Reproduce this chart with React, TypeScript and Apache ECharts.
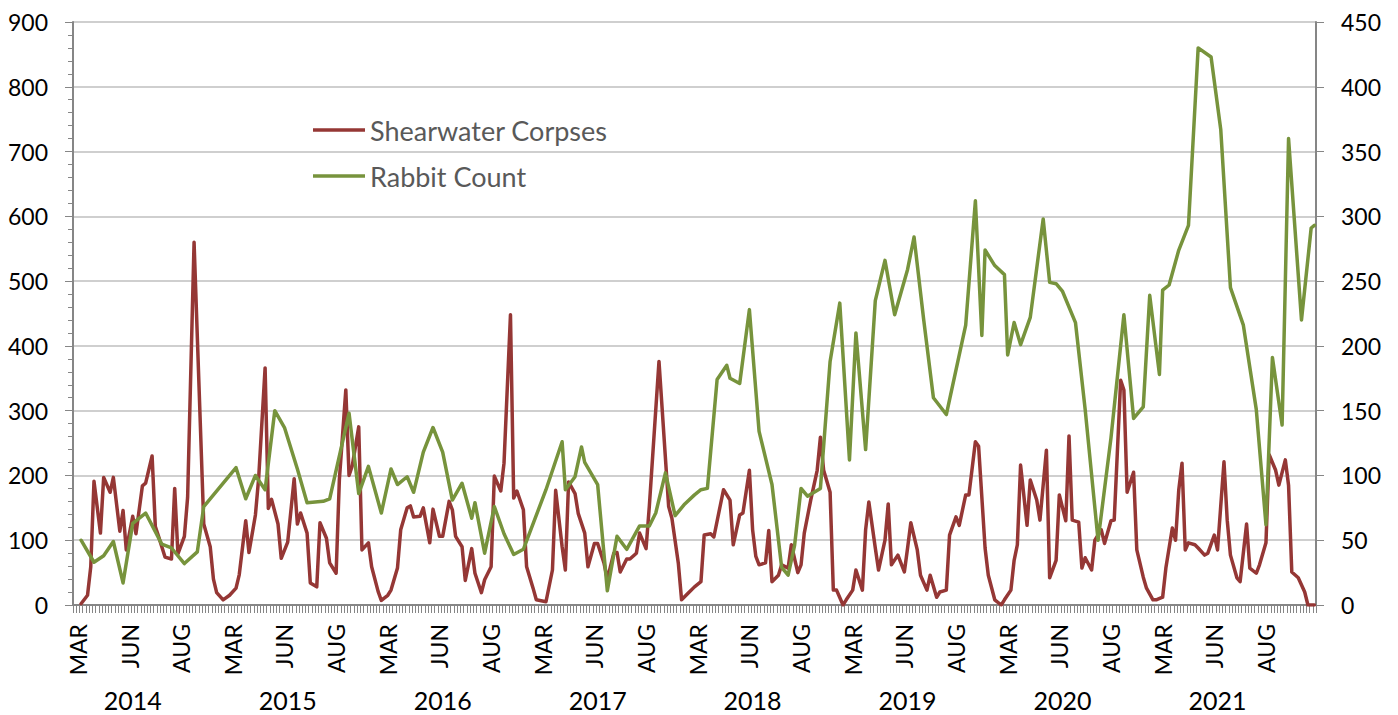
import React, { useEffect, useRef } from "react";
import * as echarts from "echarts";

// ---- data (category index, value) ----
const CATEGORY_COUNT = 385;
const monthTicks = ["MAR", "JUN", "AUG"];
const yearTicks = ["2014", "2015", "2016", "2017", "2018", "2019", "2020", "2021"];
const leftAxisTicks = [0, 900, 100];
const rightAxisTicks = [0, 450, 50];

const shearwaterCorpses: [number, number][] = [
  [2,2],[4,15],[5,59],[6,191],[8,111],[9,197],[11,174],[12,197],[14,114],[15,146],[16,85],[18,137],[19,110],[21,184],[22,188],[24,230],[25,121],[26,106],[28,74],[30,71],[31,180],[32,79],[34,106],[35,166],[37,560],[40,125],[42,90],[43,40],[44,19],[46,8],[48,15],[50,26],[51,47],[53,130],[54,81],[56,139],[57,195],[59,366],[60,149],[61,163],[63,125],[64,72],[66,97],[68,195],[69,125],[70,142],[72,111],[73,34],[75,28],[76,127],[78,103],[79,65],[81,49],[82,193],[84,332],[85,200],[86,215],[88,275],[89,85],[91,96],[92,59],[94,21],[95,7],[97,15],[98,23],[100,57],[101,116],[103,150],[104,153],[105,136],[107,137],[108,150],[110,96],[111,148],[113,106],[114,106],[116,160],[117,147],[118,106],[120,90],[121,38],[123,87],[124,49],[126,19],[127,39],[129,59],[130,199],[132,176],[133,219],[135,448],[136,165],[137,176],[139,147],[140,59],[142,26],[143,8],[146,5],[148,54],[149,177],[151,90],[152,54],[153,190],[155,172],[156,141],[158,111],[159,59],[161,95],[162,95],[164,64],[165,40],[167,80],[168,81],[169,51],[171,71],[172,71],[174,80],[175,111],[177,87],[178,152],[181,376],[184,152],[185,134],[187,64],[188,8],[190,18],[192,28],[194,36],[195,108],[197,110],[198,105],[200,154],[201,178],[203,162],[204,93],[206,139],[207,142],[209,208],[210,116],[211,75],[212,62],[214,65],[215,115],[216,36],[218,46],[219,62],[221,57],[222,93],[224,50],[225,62],[226,111],[228,162],[230,208],[231,259],[232,208],[234,174],[235,23],[236,23],[238,0],[239,8],[241,23],[242,54],[244,23],[245,116],[246,159],[248,88],[249,54],[251,100],[252,156],[253,62],[255,77],[257,51],[258,88],[259,127],[261,85],[262,46],[264,23],[265,46],[267,12],[268,20],[270,23],[271,108],[273,136],[274,123],[276,170],[277,170],[279,252],[280,245],[282,88],[283,46],[285,8],[287,0],[288,8],[290,23],[291,69],[292,93],[293,216],[295,123],[296,193],[298,162],[299,131],[301,239],[302,42],[304,69],[305,170],[307,130],[308,261],[309,131],[311,128],[312,57],[313,73],[315,54],[316,100],[318,116],[319,95],[321,130],[322,131],[324,347],[325,332],[326,174],[328,205],[329,85],[331,43],[332,26],[334,8],[335,8],[337,12],[338,57],[340,119],[341,100],[342,178],[343,219],[344,85],[345,96],[347,93],[348,88],[350,77],[351,80],[353,108],[354,85],[356,221],[357,131],[358,77],[360,42],[361,36],[363,125],[364,57],[366,49],[367,62],[369,96],[370,232],[372,208],[373,185],[375,224],[376,185],[377,51],[379,42],[381,20],[382,0],[384,0]
];

const rabbitCount: [number, number][] = [
  [2,50],[6,33],[9,38],[12,49],[15,17],[18,63],[22,71],[27,47],[30,44],[34,32],[38,41],[40,76],[50,106],[53,82],[56,100],[59,89],[62,150],[65,137],[69,105],[72,79],[77,80],[79,82],[85,148],[88,86],[91,107],[95,71],[98,105],[100,93],[103,99],[105,87],[108,118],[111,137],[114,118],[117,81],[120,94],[123,67],[124,79],[127,40],[130,76],[133,55],[136,39],[139,43],[146,89],[151,126],[152,89],[155,99],[157,122],[158,110],[162,93],[165,11],[168,53],[171,43],[175,61],[178,61],[180,71],[183,102],[186,69],[189,78],[192,85],[194,89],[196,90],[199,174],[202,185],[203,175],[206,171],[209,228],[212,134],[216,93],[219,29],[221,23],[223,46],[225,90],[227,84],[231,90],[234,188],[237,233],[240,112],[242,210],[245,120],[248,235],[251,266],[254,224],[258,259],[260,284],[263,220],[266,160],[270,147],[276,216],[279,312],[281,208],[282,274],[285,262],[288,255],[289,193],[291,218],[293,201],[296,222],[300,298],[302,249],[304,248],[306,242],[310,218],[313,151],[317,50],[321,129],[325,224],[328,144],[331,153],[333,239],[336,178],[337,243],[339,247],[342,274],[345,293],[348,430],[352,423],[355,367],[358,245],[362,216],[366,151],[369,62],[371,191],[374,139],[376,360],[380,220],[383,291],[384,293]
];

// month label every 16 categories starting at 1; year label at 18 + 48k
const MONTH_START = 1;
const MONTH_STEP = 16;
const YEAR_START = 18;
const YEAR_STEP = 48;

function toFull(points: [number, number][]): (number | null)[] {
  const arr: (number | null)[] = new Array(CATEGORY_COUNT).fill(null);
  points.forEach(([i, v]) => { arr[i] = v; });
  return arr;
}

export default function App() {
  const ref = useRef<HTMLDivElement>(null);
  useEffect(() => {
    document.body.style.margin = "0";
    if (!ref.current) return;
    const chart = echarts.init(ref.current, undefined, { renderer: "svg" });
    const monthCats: string[] = [];
    const yearCats: string[] = [];
    for (let i = 0; i < CATEGORY_COUNT; i++) {
      const m = i - MONTH_START;
      monthCats.push(m >= 0 && m % MONTH_STEP === 0 ? monthTicks[(m / MONTH_STEP) % 3] : "");
      const y = i - YEAR_START;
      yearCats.push(y >= 0 && y % YEAR_STEP === 0 && y / YEAR_STEP < yearTicks.length ? yearTicks[y / YEAR_STEP] : "");
    }
    const font = "Lato";
    const axisGray = "#868686";
    chart.setOption({
      animation: false,
      textStyle: { fontFamily: font },
      grid: { left: 73, right: 82, top: 22, bottom: 110, containLabel: false },
      legend: {
        orient: "vertical",
        left: 313,
        top: 115,
        padding: 0,
        icon: "rect",
        itemWidth: 52,
        itemHeight: 3.5,
        itemGap: 16,
        textStyle: { color: "#595959", fontSize: 27, fontFamily: font, lineHeight: 30 },
        data: ["Shearwater Corpses", "Rabbit Count"],
      },
      xAxis: [
        {
          type: "category",
          data: monthCats,
          boundaryGap: true,
          axisLine: { lineStyle: { color: axisGray, width: 2 } },
          axisTick: { show: true, interval: 0, length: 8, lineStyle: { color: axisGray, width: 1 } },
          axisLabel: { interval: 0, rotate: 90, margin: 19, fontSize: 23, color: "#000", fontFamily: font },
          splitLine: { show: false },
        },
        {
          type: "category",
          data: yearCats,
          position: "bottom",
          boundaryGap: true,
          axisLine: { show: false },
          axisTick: { show: false },
          axisLabel: { interval: 0, margin: 82, fontSize: 25, lineHeight: 25, color: "#000", fontFamily: font },
          splitLine: { show: false },
        },
      ],
      yAxis: [
        {
          type: "value",
          min: leftAxisTicks[0],
          max: leftAxisTicks[1],
          interval: leftAxisTicks[2],
          axisLine: { show: true, lineStyle: { color: axisGray, width: 2 } },
          axisTick: { show: true, length: 8, lineStyle: { color: axisGray } },
          minorTick: { show: true, splitNumber: 5, length: 5, lineStyle: { color: axisGray } },
          splitLine: { show: true, lineStyle: { color: "#BFBFBF", width: 1.5 } },
          axisLabel: { margin: 25, fontSize: 23, color: "#000", fontFamily: font },
        },
        {
          type: "value",
          position: "right",
          min: rightAxisTicks[0],
          max: rightAxisTicks[1],
          interval: rightAxisTicks[2],
          axisLine: { show: true, lineStyle: { color: axisGray, width: 2 } },
          axisTick: { show: true, length: 8, lineStyle: { color: axisGray } },
          splitLine: { show: false },
          axisLabel: { margin: 25, fontSize: 23, color: "#000", fontFamily: font },
        },
      ],
      series: [
        {
          name: "Shearwater Corpses",
          type: "line",
          xAxisIndex: 0,
          yAxisIndex: 0,
          data: toFull(shearwaterCorpses),
          connectNulls: true,
          symbol: "none",
          itemStyle: { color: "#953735" },
          lineStyle: { color: "#953735", width: 3.5, join: "round", cap: "round" },
        },
        {
          name: "Rabbit Count",
          type: "line",
          xAxisIndex: 0,
          yAxisIndex: 1,
          data: toFull(rabbitCount),
          connectNulls: true,
          symbol: "none",
          itemStyle: { color: "#77933C" },
          lineStyle: { color: "#77933C", width: 3.5, join: "round", cap: "round" },
        },
      ],
    });
    return () => chart.dispose();
  }, []);
  return <div ref={ref} style={{ width: 1398, height: 715 }} />;
}
